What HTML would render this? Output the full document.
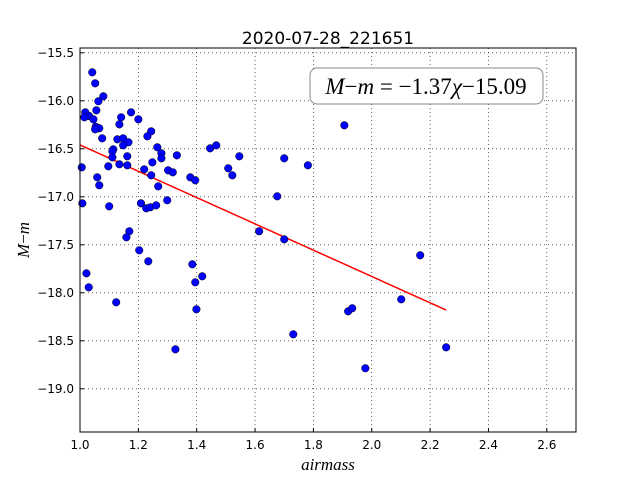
<!DOCTYPE html>
<html><head><meta charset="utf-8">
<style>
body{margin:0;background:#fff;}
svg{display:block;}
.tk{font-family:"DejaVu Sans","Liberation Sans",sans-serif;font-size:12px;fill:#000;}
</style></head>
<body>
<svg id="chart" width="640" height="480" xmlns="http://www.w3.org/2000/svg">
<rect width="640" height="480" fill="#fff"/>
<text x="328" y="44" text-anchor="middle" font-family="DejaVu Sans, Liberation Sans, sans-serif" font-size="17">2020-07-28_221651</text>
<g id="grid"></g>
<g id="ticks"></g>
<g id="fit"></g>
<g id="pts"></g>
<rect x="80" y="48" width="496" height="384" fill="none" stroke="#000" stroke-width="1"/>
<g>
<rect x="310" y="68" width="233" height="36" rx="7" fill="#fff" stroke="#888" stroke-width="1"/>
<text x="426" y="94" text-anchor="middle" font-family="Liberation Serif, DejaVu Serif, serif" font-size="23"><tspan font-style="italic">M</tspan>−<tspan font-style="italic">m</tspan> = −1.37<tspan font-style="italic">χ</tspan>−15.09</text>
</g>
<text x="328" y="470" text-anchor="middle" font-family="Liberation Serif, DejaVu Serif, serif" font-style="italic" font-size="17">airmass</text>
<text transform="translate(29,240) rotate(-90)" text-anchor="middle" font-family="Liberation Serif, DejaVu Serif, serif" font-size="17"><tspan font-style="italic">M</tspan>−<tspan font-style="italic">m</tspan></text>
</svg>
<script>
const xs=[1.042,1.052,1.080,1.063,1.056,1.018,1.031,1.015,1.046,1.175,1.200,1.141,1.135,1.054,1.066,1.052,1.244,1.231,1.076,1.128,1.148,1.166,1.148,1.265,1.446,1.467,1.114,1.111,1.279,1.162,1.111,1.279,1.332,1.546,1.700,1.781,1.006,1.248,1.135,1.097,1.162,1.220,1.508,1.302,1.318,1.522,1.059,1.244,1.378,1.395,1.066,1.268,1.676,1.008,1.100,1.209,1.227,1.241,1.261,1.299,1.169,1.159,1.203,1.234,1.022,1.030,1.124,1.385,1.419,1.395,1.399,1.327,1.614,1.700,1.731,1.906,2.166,2.101,1.919,1.933,2.255,1.978];
const ys=[-15.703,-15.818,-15.953,-16.005,-16.099,-16.120,-16.158,-16.172,-16.193,-16.120,-16.193,-16.172,-16.245,-16.270,-16.286,-16.297,-16.318,-16.370,-16.391,-16.401,-16.391,-16.432,-16.464,-16.484,-16.495,-16.464,-16.505,-16.526,-16.547,-16.578,-16.589,-16.599,-16.568,-16.578,-16.599,-16.672,-16.693,-16.641,-16.661,-16.682,-16.672,-16.714,-16.703,-16.724,-16.745,-16.776,-16.797,-16.776,-16.797,-16.828,-16.880,-16.891,-16.995,-17.068,-17.099,-17.068,-17.120,-17.109,-17.089,-17.036,-17.359,-17.422,-17.557,-17.672,-17.797,-17.943,-18.099,-17.703,-17.828,-17.891,-18.172,-18.589,-17.359,-17.443,-18.432,-16.255,-17.609,-18.068,-18.193,-18.161,-18.568,-18.786];
const xTicks=[1.0,1.2,1.4,1.6,1.8,2.0,2.2,2.4,2.6];
const yTicks=[-15.5,-16.0,-16.5,-17.0,-17.5,-18.0,-18.5,-19.0];
const slope=-1.37, intercept=-15.09;
const fitRange=[1.0,2.255];
const X0=80,X1=576,Y0=48,Y1=432,xmin=1.0,xmax=2.7,ymin=-19.45,ymax=-15.45;
const sx=v=>X0+(v-xmin)/(xmax-xmin)*(X1-X0);
const sy=v=>Y0+(ymax-v)/(ymax-ymin)*(Y1-Y0);
const NS='http://www.w3.org/2000/svg';
function mk(t,a,p){const e=document.createElementNS(NS,t);for(const k in a)e.setAttribute(k,a[k]);p.appendChild(e);return e;}
const grid=document.getElementById('grid'),ticks=document.getElementById('ticks');
xTicks.forEach(v=>{const x=sx(v);
 const g=mk('line',{x1:x,x2:x,y1:Y0,y2:Y1,stroke:'#000','stroke-width':0.6,'stroke-dasharray':'1,3'},grid);
 
 
 const t1=mk('line',{x1:x,x2:x,y1:Y1,y2:Y1-4,stroke:'#000'},ticks);
 
 
 const l=mk('text',{x:x,y:Y1+17,'text-anchor':'middle',class:'tk'},ticks);l.textContent=v.toFixed(1);
 
 
});
yTicks.forEach(v=>{const y=sy(v);
 const g=mk('line',{x1:X0,x2:X1,y1:y,y2:y,stroke:'#000','stroke-width':0.6,'stroke-dasharray':'1,3'},grid);
 
 
 const t1=mk('line',{x1:X0,x2:X0+4,y1:y,y2:y,stroke:'#000'},ticks);
 
 
 const l=mk('text',{x:X0-6,y:y+4,'text-anchor':'end',class:'tk'},ticks);l.textContent='−'+Math.abs(v).toFixed(1);
 
 
});
const fl=mk('line',{x1:sx(fitRange[0]),y1:sy(slope*fitRange[0]+intercept),x2:sx(fitRange[1]),y2:sy(slope*fitRange[1]+intercept),stroke:'#f00','stroke-width':1.5},document.getElementById('fit'));


const pts=document.getElementById('pts');
xs.forEach((v,i)=>{const c=mk('circle',{cx:sx(v),cy:sy(ys[i]),r:3.8,fill:'#0000ff',stroke:'#000','stroke-width':0.5},pts);
 
 
});
</script>
</body></html>
